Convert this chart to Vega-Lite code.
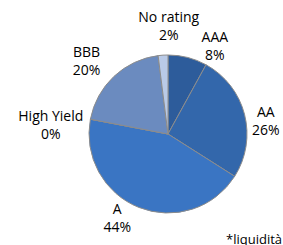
{
  "$schema": "https://vega.github.io/schema/vega-lite/v6.json",
  "width": 230,
  "height": 220,
  "autosize": "none",
  "padding": {"left": 53, "top": 24, "right": 0, "bottom": 1},
  "background": "white",
  "title": {"text": "*liquidità", "orient": "bottom", "anchor": "start", "frame": "group", "dx": 173, "offset": -22, "baseline": "top", "font": "Open Sans", "fontSize": 13, "fontWeight": "normal", "color": "#000000"},
  "data": {"values": [
    {"k": 1, "rating": "AAA", "share": 0.08},
    {"k": 2, "rating": "AA", "share": 0.26},
    {"k": 3, "rating": "A", "share": 0.44},
    {"k": 4, "rating": "High Yield", "share": 0.0},
    {"k": 5, "rating": "BBB", "share": 0.20},
    {"k": 6, "rating": "No rating", "share": 0.02}
  ]},
  "encoding": {
    "theta": {"field": "share", "type": "quantitative", "stack": true},
    "order": {"field": "k", "type": "quantitative"}
  },
  "layer": [
    {
      "mark": {"type": "arc", "outerRadius": 79, "stroke": "#8c8c8c", "strokeWidth": 1},
      "encoding": {
        "color": {"field": "rating", "type": "nominal", "legend": null,
          "scale": {"domain": ["AAA", "AA", "A", "High Yield", "BBB", "No rating"],
                    "range": ["#2D5C9B", "#3367AB", "#3A75C3", "#4F6EA0", "#6B8BBF", "#B9CAE7"]}}
      }
    },
    {"mark": {"type": "text", "radius": 100, "dx": 22, "dy": 1, "font": "Open Sans", "fontSize": 14, "fill": "#000000"},
     "encoding": {"text": {"field": "rating", "type": "nominal"}, "opacity": {"condition": {"test": "datum.rating === 'AAA'", "value": 1}, "value": 0}}},
    {"mark": {"type": "text", "radius": 100, "dx": 22, "dy": 19, "font": "Open Sans", "fontSize": 14, "fill": "#000000"},
     "encoding": {"text": {"field": "share", "type": "quantitative", "format": ".0%"}, "opacity": {"condition": {"test": "datum.rating === 'AAA'", "value": 1}, "value": 0}}},
    {"mark": {"type": "text", "radius": 100, "dx": 1, "dy": 4, "font": "Open Sans", "fontSize": 14, "fill": "#000000"},
     "encoding": {"text": {"field": "rating", "type": "nominal"}, "opacity": {"condition": {"test": "datum.rating === 'AA'", "value": 1}, "value": 0}}},
    {"mark": {"type": "text", "radius": 100, "dx": 1, "dy": 22, "font": "Open Sans", "fontSize": 14, "fill": "#000000"},
     "encoding": {"text": {"field": "share", "type": "quantitative", "format": ".0%"}, "opacity": {"condition": {"test": "datum.rating === 'AA'", "value": 1}, "value": 0}}},
    {"mark": {"type": "text", "radius": 100, "dx": -14, "dy": -17, "font": "Open Sans", "fontSize": 14, "fill": "#000000"},
     "encoding": {"text": {"field": "rating", "type": "nominal"}, "opacity": {"condition": {"test": "datum.rating === 'A'", "value": 1}, "value": 0}}},
    {"mark": {"type": "text", "radius": 100, "dx": -14, "dy": 1, "font": "Open Sans", "fontSize": 14, "fill": "#000000"},
     "encoding": {"text": {"field": "share", "type": "quantitative", "format": ".0%"}, "opacity": {"condition": {"test": "datum.rating === 'A'", "value": 1}, "value": 0}}},
    {"mark": {"type": "text", "radius": 100, "dx": -19, "dy": 2, "font": "Open Sans", "fontSize": 14, "fill": "#000000"},
     "encoding": {"text": {"field": "rating", "type": "nominal"}, "opacity": {"condition": {"test": "datum.rating === 'High Yield'", "value": 1}, "value": 0}}},
    {"mark": {"type": "text", "radius": 100, "dx": -19, "dy": 20, "font": "Open Sans", "fontSize": 14, "fill": "#000000"},
     "encoding": {"text": {"field": "share", "type": "quantitative", "format": ".0%"}, "opacity": {"condition": {"test": "datum.rating === 'High Yield'", "value": 1}, "value": 0}}},
    {"mark": {"type": "text", "radius": 100, "dx": -13, "dy": -8, "font": "Open Sans", "fontSize": 14, "fill": "#000000"},
     "encoding": {"text": {"field": "rating", "type": "nominal"}, "opacity": {"condition": {"test": "datum.rating === 'BBB'", "value": 1}, "value": 0}}},
    {"mark": {"type": "text", "radius": 100, "dx": -13, "dy": 10, "font": "Open Sans", "fontSize": 14, "fill": "#000000"},
     "encoding": {"text": {"field": "share", "type": "quantitative", "format": ".0%"}, "opacity": {"condition": {"test": "datum.rating === 'BBB'", "value": 1}, "value": 0}}},
    {"mark": {"type": "text", "radius": 100, "dx": 7, "dy": -16, "font": "Open Sans", "fontSize": 14, "fill": "#000000"},
     "encoding": {"text": {"field": "rating", "type": "nominal"}, "opacity": {"condition": {"test": "datum.rating === 'No rating'", "value": 1}, "value": 0}}},
    {"mark": {"type": "text", "radius": 100, "dx": 7, "dy": 2, "font": "Open Sans", "fontSize": 14, "fill": "#000000"},
     "encoding": {"text": {"field": "share", "type": "quantitative", "format": ".0%"}, "opacity": {"condition": {"test": "datum.rating === 'No rating'", "value": 1}, "value": 0}}}
  ],
  "config": {"view": {"stroke": null}}
}
